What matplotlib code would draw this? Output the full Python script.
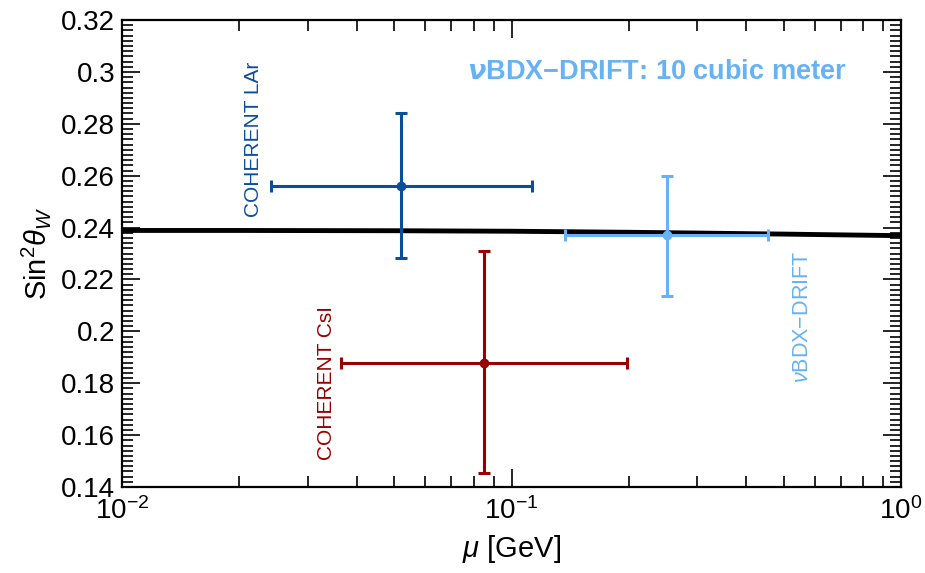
import numpy as np
import matplotlib.pyplot as plt
from matplotlib.ticker import MultipleLocator, LogLocator, NullFormatter

plt.rcParams['font.family'] = ['Liberation Sans', 'DejaVu Sans']
plt.rcParams['mathtext.fontset'] = 'custom'
plt.rcParams['mathtext.rm'] = 'Liberation Sans'
plt.rcParams['mathtext.it'] = 'Liberation Sans:italic'
plt.rcParams['mathtext.bf'] = 'Liberation Sans:bold'

# running weak mixing angle (SM prediction)
mu_sm = [0.01, 0.02, 0.05, 0.1, 0.2, 0.3, 0.5, 0.7, 1.0]
s2w_sm = [0.2389, 0.2389, 0.2388, 0.2386, 0.2382, 0.2379, 0.2375, 0.2372, 0.2369]

# measurements: name, mu, x-range, s2w, y-range
names = ['COHERENT LAr', 'COHERENT CsI', 'vBDX-DRIFT']
mu_c = [0.052, 0.085, 0.251]
mu_lo = [0.0241, 0.0365, 0.137]
mu_hi = [0.1127, 0.198, 0.456]
s2w_c = [0.256, 0.188, 0.237]
s2w_lo = [0.2282, 0.1454, 0.2138]
s2w_hi = [0.2842, 0.231, 0.260]
colors = ['#0b4f9c', '#990000', '#66b2f5']

fig = plt.figure(figsize=(9.25, 5.73), dpi=100)
ax = fig.add_axes([0.132, 0.150, 0.842, 0.815])

ax.plot(mu_sm, s2w_sm, color='black', lw=3.5, zorder=1)

for i in range(3):
    xerr = [[mu_c[i] - mu_lo[i]], [mu_hi[i] - mu_c[i]]]
    yerr = [[s2w_c[i] - s2w_lo[i]], [s2w_hi[i] - s2w_c[i]]]
    ax.errorbar([mu_c[i]], [s2w_c[i]], xerr=xerr, yerr=yerr, fmt='o',
                color=colors[i], ms=6, elinewidth=2.2, capsize=4,
                capthick=2.2, zorder=3)

ax.set_xscale('log')
ax.set_xlim(1e-2, 1)
ax.set_ylim(0.14, 0.32)

ax.yaxis.set_major_locator(MultipleLocator(0.02))
ax.yaxis.set_minor_locator(MultipleLocator(0.002))
ax.set_yticks(np.arange(0.14, 0.321, 0.02))
ax.set_yticklabels(['0.14', '0.16', '0.18', '0.2', '0.22', '0.24',
                    '0.26', '0.28', '0.3', '0.32'])
ax.xaxis.set_minor_locator(LogLocator(base=10, subs=np.arange(2, 10)))
ax.xaxis.set_minor_formatter(NullFormatter())

ax.tick_params(which='both', direction='in', top=True, right=True,
               labelsize=20, width=1.2)
ax.tick_params(which='major', length=13)
ax.tick_params(which='minor', length=8)
ax.tick_params(axis='x', pad=7)
ax.tick_params(axis='y', pad=5)
for s in ax.spines.values():
    s.set_linewidth(1.6)

ax.set_xlabel(r'$\mu$ [GeV]', fontsize=21, labelpad=6)
ax.set_ylabel(r'Sin$^2\theta_W$', fontsize=21, labelpad=6)

ax.text(0.0218, 0.274, 'COHERENT LAr', rotation=90, color=colors[0],
        fontsize=15, ha='center', va='center')
ax.text(0.0335, 0.180, 'COHERENT CsI', rotation=90, color=colors[1],
        fontsize=15, ha='center', va='center')
ax.text(0.56, 0.2055, r'$\nu$BDX$-$DRIFT', rotation=90, color=colors[2],
        fontsize=15.5, ha='center', va='center')
ax.text(0.077, 0.3, r'$\boldsymbol{\nu}$BDX$\mathbf{-}$DRIFT: 10 cubic meter',
        color=colors[2], fontsize=19.5, fontweight='bold', ha='left',
        va='center')

fig.savefig('out.png', dpi=100)
